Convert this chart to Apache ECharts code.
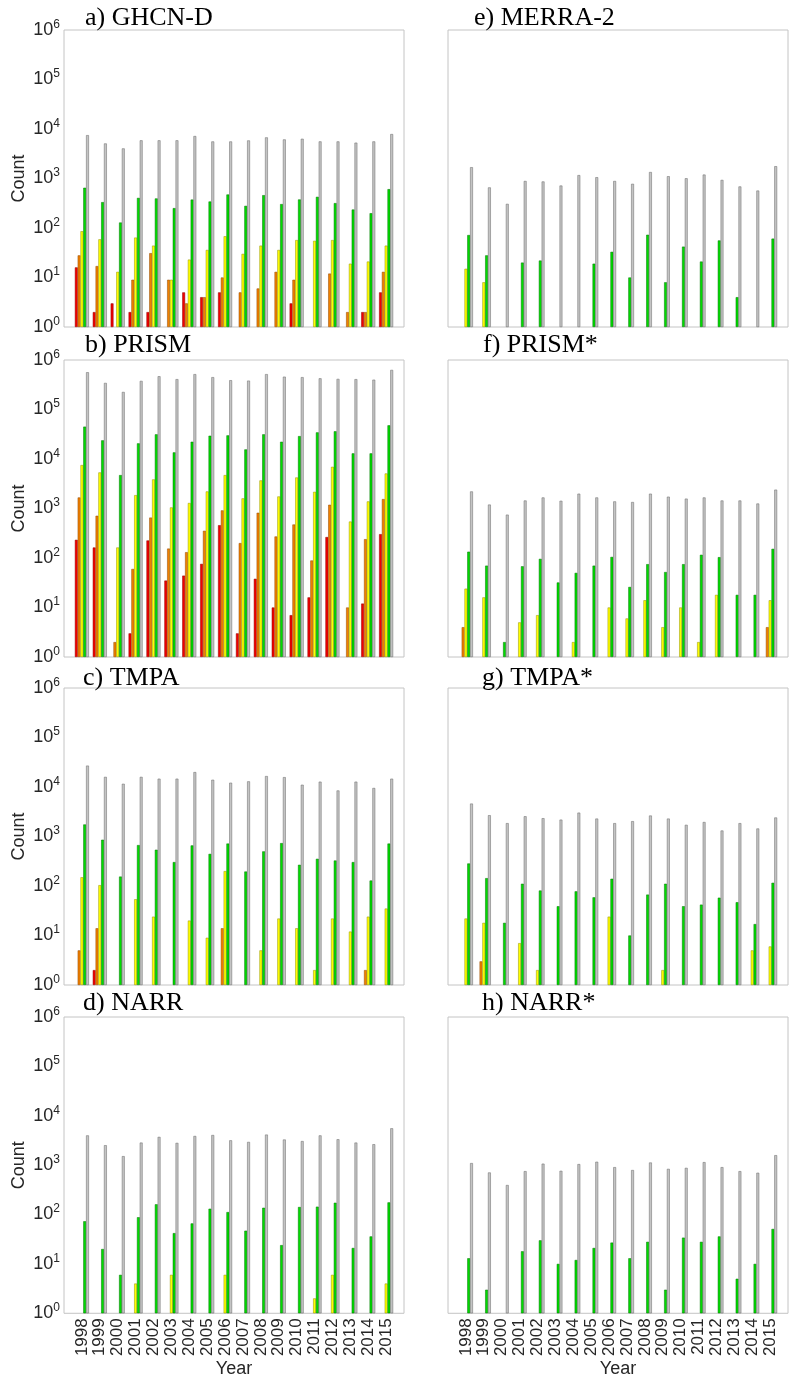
<!DOCTYPE html>
<html>
<head>
<meta charset="utf-8">
<title>Count per year</title>
<script src="https://cdn.jsdelivr.net/npm/echarts@6/dist/echarts.min.js"></script>
<style>
  html, body { margin: 0; padding: 0; background: #fff; }
  #chart { width: 789px; height: 1379px; }
</style>
</head>
<body>
<div id="chart"></div>
<script>
const years = ['1998', '1999', '2000', '2001', '2002', '2003', '2004', '2005', '2006',
  '2007', '2008', '2009', '2010', '2011', '2012', '2013', '2014', '2015'];
const yTicks = [1, 10, 100, 1000, 10000, 100000, 1000000];

// a) GHCN-D
const ghcnRed = [16, 2, 3, 2, 2, null, 5, 4, 5, null, null, null, 3, null, null, null, 2, 5];
const ghcnOrange = [28, 17, null, 9, 31, 9, 3, 4, 10, 5, 6, 13, 9, null, 12, 2, 2, 13];
const ghcnYellow = [86, 59, 13, 64, 44, 9, 23, 36, 68, 30, 44, 36, 57, 55, 57, 19, 21, 44];
const ghcnGreen = [650, 333, 129, 405, 395, 252, 375, 343, 475, 280, 460, 304, 377, 426, 318, 236, 199, 609];
const ghcnGray = [7500, 5100, 4050, 5900, 5900, 5900, 7200, 5600, 5600, 5870, 6760, 6150, 6340, 5610, 5610, 5290, 5610, 7900];

// b) PRISM
const prismRed = [233, 163, null, 3, 226, 35, 44, 76, 460, 3, 38, 10, 7, 16, 265, null, 12, 303];
const prismOrange = [1670, 713, 2, 60, 655, 155, 131, 354, 915, 200, 820, 272, 475, 89, 1190, 10, 240, 1550];
const prismYellow = [7540, 5350, 163, 1860, 3870, 1050, 1290, 2210, 4730, 1600, 3690, 1750, 4230, 2170, 6950, 545, 1390, 5100];
const prismGreen = [45000, 23800, 4730, 20700, 31500, 13600, 22300, 29500, 30000, 15600, 31500, 22300, 29000, 34500, 36300, 13000, 13000, 47900];
const prismGray = [565000, 344000, 226000, 378000, 469000, 410000, 518000, 450000, 390000, 383000, 518000, 460000, 450000, 426000, 415000, 410000, 400000, 630000];

// c) TMPA
const tmpaRed = [null, 2, null, null, null, null, null, null, null, null, null, null, null, null, null, null, null, null];
const tmpaOrange = [5, 14, null, null, null, null, null, null, 14, null, null, null, null, null, null, null, 2, null];
const tmpaYellow = [150, 104, null, 54, 24, null, 20, 9, 200, null, 5, 22, 14, 2, 22, 12, 24, 35];
const tmpaGreen = [1750, 860, 155, 670, 540, 304, 660, 445, 720, 196, 500, 735, 268, 354, 327, 304, 129, 720];
const tmpaGray = [27000, 16000, 11600, 16000, 14700, 14700, 20000, 14000, 12200, 13000, 16600, 15800, 11100, 12800, 8500, 12800, 9540, 14700];

// d) NARR
const narrRed = [null, null, null, null, null, null, null, null, null, null, null, null, null, null, null, null, null, null];
const narrOrange = [null, null, null, null, null, null, null, null, null, null, null, null, null, null, null, null, null, null];
const narrYellow = [null, null, null, 4, null, 6, null, null, 6, null, null, null, null, 2, 6, null, null, 4];
const narrGreen = [73, 20, 6, 88, 161, 42, 66, 131, 112, 47, 137, 24, 142, 144, 173, 21, 36, 176];
const narrGray = [4000, 2530, 1520, 2860, 3730, 2820, 3890, 4070, 3180, 2950, 4150, 3300, 3070, 4000, 3340, 2860, 2650, 5570];

// e) MERRA-2
const merraRed = [null, null, null, null, null, null, null, null, null, null, null, null, null, null, null, null, null, null];
const merraOrange = [null, null, null, null, null, null, null, null, null, null, null, null, null, null, null, null, null, null];
const merraYellow = [15, 8, null, null, null, null, null, null, null, null, null, null, null, null, null, null, null, null];
const merraGreen = [72, 28, null, 20, 22, null, null, 19, 33, 10, 73, 8, 42, 21, 56, 4, null, 61];
const merraGray = [1690, 660, 307, 890, 870, 720, 1170, 1060, 890, 780, 1350, 1110, 1010, 1200, 935, 690, 570, 1770];

// f) PRISM*
const prismSRed = [null, null, null, null, null, null, null, null, null, null, null, null, null, null, null, null, null, null];
const prismSOrange = [4, null, null, null, null, null, null, null, null, null, null, null, null, null, null, null, null, 4];
const prismSYellow = [24, 16, null, 5, 7, null, 2, null, 10, 6, 14, 4, 10, 2, 18, null, null, 14];
const prismSGreen = [134, 70, 2, 68, 96, 32, 50, 70, 105, 26, 75, 52, 75, 116, 104, 18, 18, 153];
const prismSGray = [2210, 1200, 750, 1450, 1670, 1430, 1990, 1670, 1390, 1350, 1990, 1730, 1580, 1670, 1450, 1450, 1260, 2400];

// g) TMPA*
const tmpaSRed = [null, null, null, null, null, null, null, null, null, null, null, null, null, null, null, null, null, null];
const tmpaSOrange = [null, 3, null, null, null, null, null, null, null, null, null, null, null, null, null, null, null, null];
const tmpaSYellow = [22, 18, null, 7, 2, null, null, null, 24, null, null, 2, null, null, null, null, 5, 6];
const tmpaSGreen = [285, 144, 18, 111, 81, 39, 78, 59, 140, 10, 67, 111, 39, 42, 58, 47, 17, 116];
const tmpaSGray = [4620, 2690, 1860, 2560, 2340, 2190, 3030, 2300, 1860, 2040, 2650, 2300, 1720, 1960, 1320, 1860, 1450, 2420];

// h) NARR*
const narrSRed = [null, null, null, null, null, null, null, null, null, null, null, null, null, null, null, null, null, null];
const narrSOrange = [null, null, null, null, null, null, null, null, null, null, null, null, null, null, null, null, null, null];
const narrSYellow = [null, null, null, null, null, null, null, null, null, null, null, null, null, null, null, null, null, null];
const narrSGreen = [13, 3, null, 18, 30, 10, 12, 21, 27, 13, 28, 3, 34, 28, 36, 5, 10, 51];
const narrSGray = [1100, 710, 395, 755, 1070, 767, 1050, 1170, 910, 795, 1130, 840, 880, 1150, 910, 755, 700, 1590];

const fills = ['#f00000', '#f08000', '#ffff00', '#00dc00', '#c4c4c4'];
const edges = ['#900000', '#904800', '#909000', '#007000', '#666666'];

const panels = [
  {title: 'a) GHCN-D', col: 0, row: 0, tx: 85, data: [ghcnRed, ghcnOrange, ghcnYellow, ghcnGreen, ghcnGray]},
  {title: 'b) PRISM', col: 0, row: 1, tx: 85, data: [prismRed, prismOrange, prismYellow, prismGreen, prismGray]},
  {title: 'c) TMPA', col: 0, row: 2, tx: 83, data: [tmpaRed, tmpaOrange, tmpaYellow, tmpaGreen, tmpaGray]},
  {title: 'd) NARR', col: 0, row: 3, tx: 83, data: [narrRed, narrOrange, narrYellow, narrGreen, narrGray]},
  {title: 'e) MERRA-2', col: 1, row: 0, tx: 474, data: [merraRed, merraOrange, merraYellow, merraGreen, merraGray]},
  {title: 'f) PRISM*', col: 1, row: 1, tx: 483, data: [prismSRed, prismSOrange, prismSYellow, prismSGreen, prismSGray]},
  {title: 'g) TMPA*', col: 1, row: 2, tx: 482, data: [tmpaSRed, tmpaSOrange, tmpaSYellow, tmpaSGreen, tmpaSGray]},
  {title: 'h) NARR*', col: 1, row: 3, tx: 482, data: [narrSRed, narrSOrange, narrSYellow, narrSGreen, narrSGray]}
];

const colLeft = [64, 448];
const rowTop = [30, 360, 688, 1017];
const titleTop = [5, 332, 665, 990];
const textColor = '#262626';

// one empty slot on each side so the groups sit at whole steps of [0, 19]
const cats = [''].concat(years, ['']);

let myChart = echarts.init(document.getElementById('chart'));

let grids = [], xAxes = [], yAxes = [], titles = [], series = [];
panels.forEach(function (p, i) {
  let bottomRow = p.row === 3;
  let leftCol = p.col === 0;
  grids.push({
    left: colLeft[p.col], top: rowTop[p.row], width: 340, height: 297,
    show: true, borderColor: '#c4c4c4', borderWidth: 1, backgroundColor: '#fff'
  });
  titles.push({
    text: p.title, left: p.tx, top: titleTop[p.row], padding: 0,
    textStyle: {fontFamily: 'Liberation Serif', fontSize: 26, fontWeight: 'normal', color: '#000'}
  });
  xAxes.push({
    type: 'category', gridIndex: i, data: cats, boundaryGap: false,
    axisLine: {show: false}, axisTick: {show: false}, splitLine: {show: false},
    axisLabel: {
      show: bottomRow, interval: 0, rotate: 90, margin: 5,
      fontFamily: 'Liberation Sans', fontSize: 17, color: textColor
    },
    name: bottomRow ? 'Year' : '', nameLocation: 'middle', nameGap: 44,
    nameTextStyle: {fontFamily: 'Liberation Sans', fontSize: 18, color: textColor}
  });
  yAxes.push({
    type: 'log', logBase: 10, gridIndex: i,
    min: yTicks[0], max: yTicks[yTicks.length - 1], splitNumber: 6,
    axisLine: {show: false}, axisTick: {show: false}, splitLine: {show: false},
    axisLabel: {
      show: leftCol, margin: 4,
      formatter: function (v) {
        return '{b|10}{s|' + Math.round(Math.log10(v)) + '}';
      },
      rich: {
        b: {fontFamily: 'Liberation Sans', fontSize: 18, color: textColor},
        s: {fontFamily: 'Liberation Sans', fontSize: 12, color: textColor, verticalAlign: 'top', padding: [0, 0, 11, 0]}
      }
    },
    name: leftCol ? 'Count' : '', nameLocation: 'middle', nameGap: 36,
    nameTextStyle: {fontFamily: 'Liberation Sans', fontSize: 18, color: textColor}
  });
  p.data.forEach(function (values, k) {
    series.push({
      type: 'bar', xAxisIndex: i, yAxisIndex: i,
      data: [null].concat(values, [null]),
      barWidth: 2.8, barGap: '0%',
      itemStyle: {color: fills[k], borderColor: edges[k], borderWidth: 0.5},
      silent: true
    });
  });
});

myChart.setOption({
  animation: false,
  backgroundColor: '#fff',
  title: titles,
  grid: grids,
  xAxis: xAxes,
  yAxis: yAxes,
  series: series
});
</script>
</body>
</html>
